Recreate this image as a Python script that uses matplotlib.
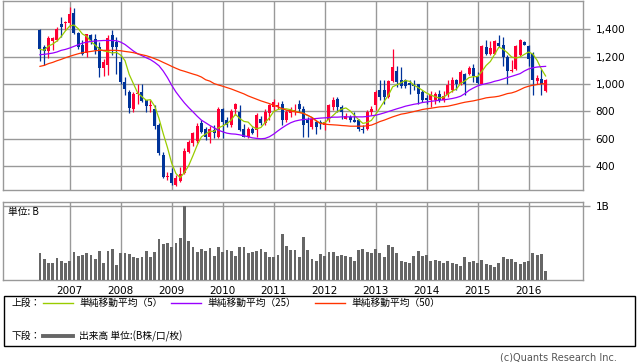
import numpy as np
import pandas as pd
import matplotlib
matplotlib.use('Agg')
import matplotlib.pyplot as plt
from matplotlib.patches import Rectangle
from matplotlib.lines import Line2D
from matplotlib.ticker import FuncFormatter

plt.rcParams['font.family'] = ['Noto Sans CJK JP', 'DejaVu Sans']

# monthly candles, 2006-06 .. 2016-05
months = pd.period_range('2006-06', '2016-05', freq='M')

opens = [1395, 1266, 1240, 1313, 1322, 1434, 1444, 1444, 1519, 1371,
         1281, 1225, 1354, 1330, 1269, 1116, 1135, 1354, 1305, 1160,
         1014, 941, 815, 924, 941, 881, 837, 813, 699, 480,
         317, 347, 262, 293, 352, 504, 570, 585, 711, 667,
         614, 660, 614, 813, 735, 699, 820, 796, 674, 614,
         667, 662, 740, 711, 784, 832, 840, 851, 735, 784,
         796, 856, 820, 735, 686, 723, 723, 699, 735, 832,
         893, 832, 747, 759, 735, 735, 674, 667, 796, 844,
         958, 953, 905, 1019, 1094, 1031, 1026, 1009, 1002, 997,
         941, 900, 881, 881, 929, 881, 922, 958, 1026, 1002,
         1070, 1075, 1116, 1055, 1002, 1269, 1216, 1220, 1300, 1286,
         1196, 1094, 1111, 1208, 1305, 1276, 1220, 1019, 1036, 949]
highs = [1402, 1286, 1349, 1342, 1415, 1492, 1458, 1565, 1555, 1378,
         1317, 1366, 1366, 1366, 1305, 1184, 1354, 1397, 1342, 1208,
         1050, 953, 941, 1002, 1002, 885, 881, 844, 711, 504,
         359, 383, 335, 395, 529, 589, 650, 711, 735, 682,
         691, 700, 832, 825, 759, 813, 858, 844, 710, 686,
         686, 789, 769, 815, 856, 893, 870, 875, 808, 832,
         851, 880, 837, 759, 759, 735, 735, 735, 856, 903,
         905, 844, 784, 771, 793, 747, 699, 808, 837, 953,
         1026, 1026, 1026, 1257, 1128, 1123, 1038, 1026, 1026, 1002,
         958, 917, 949, 939, 953, 949, 1026, 1050, 1033, 1099,
         1080, 1131, 1147, 1087, 1281, 1322, 1313, 1322, 1354, 1342,
         1208, 1172, 1281, 1325, 1313, 1281, 1233, 1063, 1111, 1038]
lows = [1165, 1135, 1191, 1245, 1313, 1342, 1390, 1419, 1366, 1257,
        1208, 1196, 1293, 1220, 1050, 1055, 1063, 1208, 1075, 1002,
        917, 791, 796, 856, 868, 796, 796, 674, 480, 310,
        298, 262, 257, 286, 342, 497, 546, 565, 638, 589,
        565, 605, 604, 608, 686, 686, 775, 657, 609, 602,
        633, 614, 699, 699, 738, 803, 820, 699, 723, 757,
        771, 793, 614, 614, 672, 636, 672, 660, 723, 808,
        796, 747, 747, 723, 723, 657, 638, 660, 771, 808,
        881, 856, 898, 1014, 978, 973, 973, 929, 953, 856,
        868, 856, 832, 851, 868, 868, 905, 941, 953, 990,
        917, 1063, 1014, 1002, 997, 1208, 1208, 1216, 1269, 1128,
        997, 1087, 1104, 1201, 1281, 1128, 917, 997, 917, 941]
closes = [1252, 1240, 1337, 1334, 1402, 1415, 1449, 1512, 1371, 1269,
          1220, 1366, 1317, 1245, 1116, 1160, 1337, 1269, 1269, 1014,
          965, 827, 929, 934, 876, 837, 847, 691, 492, 322,
          327, 274, 310, 342, 512, 577, 638, 691, 650, 614,
          674, 640, 813, 723, 699, 803, 851, 662, 614, 674,
          638, 771, 711, 796, 844, 868, 846, 735, 796, 813,
          808, 813, 699, 711, 747, 686, 711, 723, 844, 885,
          832, 796, 764, 735, 723, 674, 662, 796, 813, 941,
          905, 905, 1019, 1123, 1014, 983, 983, 990, 983, 929,
          881, 881, 917, 924, 881, 912, 990, 1026, 1002, 1087,
          1002, 1116, 1055, 1007, 1274, 1220, 1262, 1313, 1274, 1196,
          1094, 1104, 1274, 1317, 1286, 1184, 1026, 1046, 1002, 1031]

# volume, billions of shares
volumes = [0.37, 0.29, 0.23, 0.23, 0.30, 0.26, 0.23, 0.26, 0.38, 0.33,
           0.34, 0.37, 0.34, 0.29, 0.40, 0.23, 0.40, 0.42, 0.21, 0.37,
           0.37, 0.36, 0.31, 0.30, 0.31, 0.40, 0.31, 0.38, 0.56, 0.49,
           0.51, 0.45, 0.51, 0.57, 1.00, 0.53, 0.45, 0.38, 0.42, 0.40,
           0.44, 0.33, 0.45, 0.38, 0.41, 0.40, 0.33, 0.45, 0.45, 0.37,
           0.38, 0.40, 0.42, 0.38, 0.31, 0.31, 0.34, 0.63, 0.46, 0.41,
           0.41, 0.31, 0.59, 0.41, 0.29, 0.26, 0.36, 0.33, 0.38, 0.38,
           0.33, 0.34, 0.33, 0.31, 0.26, 0.41, 0.42, 0.38, 0.37, 0.42,
           0.37, 0.31, 0.48, 0.45, 0.37, 0.26, 0.25, 0.23, 0.33, 0.40,
           0.33, 0.34, 0.26, 0.27, 0.26, 0.23, 0.26, 0.23, 0.22, 0.19,
           0.31, 0.25, 0.26, 0.23, 0.27, 0.22, 0.21, 0.18, 0.23, 0.31,
           0.29, 0.29, 0.25, 0.22, 0.25, 0.26, 0.37, 0.34, 0.36, 0.12]

# moving averages as drawn (longer windows reach back before the first candle)
ma25 = [1213, 1216, 1220, 1225, 1233, 1245, 1252, 1262, 1274, 1286,
        1298, 1305, 1310, 1313, 1315, 1317, 1317, 1317, 1315, 1305,
        1288, 1264, 1240, 1220, 1206, 1191, 1177, 1157, 1133, 1094,
        1046, 990, 941, 900, 861, 827, 796, 764, 735, 716,
        696, 679, 662, 650, 640, 635, 633, 628, 621, 614,
        606, 602, 599, 602, 614, 633, 657, 679, 699, 716,
        728, 735, 740, 742, 745, 747, 750, 752, 754, 757,
        757, 759, 759, 759, 759, 759, 759, 762, 767, 771,
        779, 788, 798, 808, 818, 827, 837, 844, 851, 856,
        864, 868, 873, 876, 881, 883, 888, 893, 900, 910,
        929, 953, 970, 985, 995, 1002, 1009, 1019, 1026, 1036,
        1046, 1055, 1065, 1075, 1094, 1109, 1118, 1123, 1126, 1128]
ma50 = [1128, 1135, 1148, 1157, 1169, 1179, 1191, 1201, 1211, 1220,
        1228, 1233, 1237, 1242, 1245, 1245, 1245, 1245, 1245, 1242,
        1237, 1233, 1228, 1220, 1213, 1206, 1196, 1184, 1172, 1157,
        1143, 1128, 1114, 1101, 1092, 1082, 1072, 1063, 1050, 1030,
        1020, 1002, 992, 983, 973, 963, 951, 939, 927, 912,
        900, 888, 876, 866, 856, 844, 832, 820, 808, 801,
        796, 791, 784, 771, 754, 730, 711, 706, 703, 701,
        699, 696, 694, 691, 691, 691, 691, 694, 699, 711,
        725, 735, 747, 759, 769, 779, 784, 791, 798, 805,
        813, 818, 822, 827, 832, 834, 837, 844, 851, 859,
        866, 871, 876, 883, 890, 898, 902, 905, 910, 919,
        929, 934, 944, 958, 973, 983, 990, 995, 1000, 1002]

price_ticks = [400, 600, 800, 1000, 1200, 1400]

UP = '#ff0033'
DOWN = '#003399'
GRID = '#999999'

df = pd.DataFrame({'open': opens, 'high': highs, 'low': lows,
                   'close': closes, 'vol': volumes,
                   'ma25': ma25, 'ma50': ma50}, index=months)
df['ma5'] = df['close'].rolling(5, min_periods=1).mean()
x = np.arange(len(df))
year_pos = x[df.index.month == 1]
year_lab = [str(p.year) for p in df.index[df.index.month == 1]]

W, H = 638, 362
fig = plt.figure(figsize=(W / 100, H / 100), dpi=100)


def rect(l, t, r, b):
    return [l / W, 1 - b / H, (r - l) / W, (b - t) / H]


def fxy(px, py):
    return px / W, 1 - py / H


ax = fig.add_axes(rect(3, 0.5, 583, 190))
axv = fig.add_axes(rect(3, 201.5, 583, 280))

# candles
up = df['close'] >= df['open']
cols = np.where(up, UP, DOWN)
ax.vlines(x, df['low'], df['high'], colors=cols, lw=0.9, zorder=3)
body_lo = np.minimum(df['open'], df['close'])
body_h = np.maximum(np.abs(df['close'] - df['open']), 5)
ax.bar(x, body_h, bottom=body_lo, width=0.72, color=cols, lw=0, zorder=4)

ax.plot(x, df['ma5'], color='#99cc00', lw=0.9, zorder=5)
ax.plot(x, df['ma25'], color='#9900ff', lw=0.9, zorder=5)
ax.plot(x, df['ma50'], color='#ff3300', lw=0.9, zorder=5)

xlim = (-8.7, 127.8)
ax.set_xlim(*xlim)
ax.set_ylim(225, 1609)
ax.set_yticks(price_ticks)
ax.yaxis.set_major_formatter(FuncFormatter(lambda v, p: '{:,.0f}'.format(v)))
ax.set_xticks(year_pos)
ax.set_xticklabels([])
ax.yaxis.tick_right()
ax.tick_params(axis='y', length=5, color=GRID, width=1, labelsize=7.5, pad=4)
ax.tick_params(axis='x', length=0)
for lab in ax.get_yticklabels():
    lab.set_family('DejaVu Sans')
ax.grid(True, color=GRID, lw=1)
ax.set_axisbelow(True)
for s in ax.spines.values():
    s.set_color(GRID)
    s.set_linewidth(1)

# volume
axv.bar(x, df['vol'], width=0.66, color='#666666', lw=0, zorder=3)
axv.set_xlim(*xlim)
axv.set_ylim(0, 1.068)
axv.set_yticks([1.0])
axv.set_yticklabels(['1B'])
axv.yaxis.tick_right()
axv.set_xticks(year_pos)
axv.set_xticklabels(year_lab)
axv.tick_params(axis='y', length=5, color=GRID, width=1, labelsize=7.5, pad=4)
axv.tick_params(axis='x', length=0, labelsize=7.5, pad=4)
for lab in axv.get_yticklabels() + axv.get_xticklabels():
    lab.set_family('DejaVu Sans')
axv.grid(True, color=GRID, lw=1)
axv.set_axisbelow(True)
for s in axv.spines.values():
    s.set_color(GRID)
    s.set_linewidth(1)
axv.text(0.008, 0.86, '単位: B', transform=axv.transAxes, fontsize=7,
         va='center', ha='left', zorder=6)

# legend box
fig.add_artist(Rectangle(fxy(3.5, 346), 631.5 / W, 50 / H, transform=fig.transFigure,
                         fill=False, ec='black', lw=1))
row1, row2 = 303, 336
fig.text(*fxy(12, row1), '上段：', fontsize=7, va='center')
fig.text(*fxy(12, row2), '下段：', fontsize=7, va='center')
legend_items = [(43, '#99cc00', '単純移動平均（5）'),
                (171, '#9900ff', '単純移動平均（25）'),
                (315, '#ff3300', '単純移動平均（50）')]
for lx, c, t in legend_items:
    (x0, y0), (x1, _) = fxy(lx, row1), fxy(lx + 30, row1)
    fig.add_artist(Line2D([x0, x1], [y0, y0], color=c, lw=1, transform=fig.transFigure))
    fig.text(*fxy(lx + 36, row1), t, fontsize=7, va='center')
(x0, y0), (x1, _) = fxy(43, row2), fxy(73, row2)
fig.add_artist(Line2D([x0, x1], [y0, y0], color='#666666', lw=2.8, transform=fig.transFigure))
fig.text(*fxy(79, row2), '出来高 単位:(B株/口/枚)', fontsize=7, va='center')

fig.text(*fxy(617, 357), '(c)Quants Research Inc.', fontsize=7, va='center',
         ha='right', color='#555555', family='DejaVu Sans')

fig.savefig('out.png', dpi=100)
